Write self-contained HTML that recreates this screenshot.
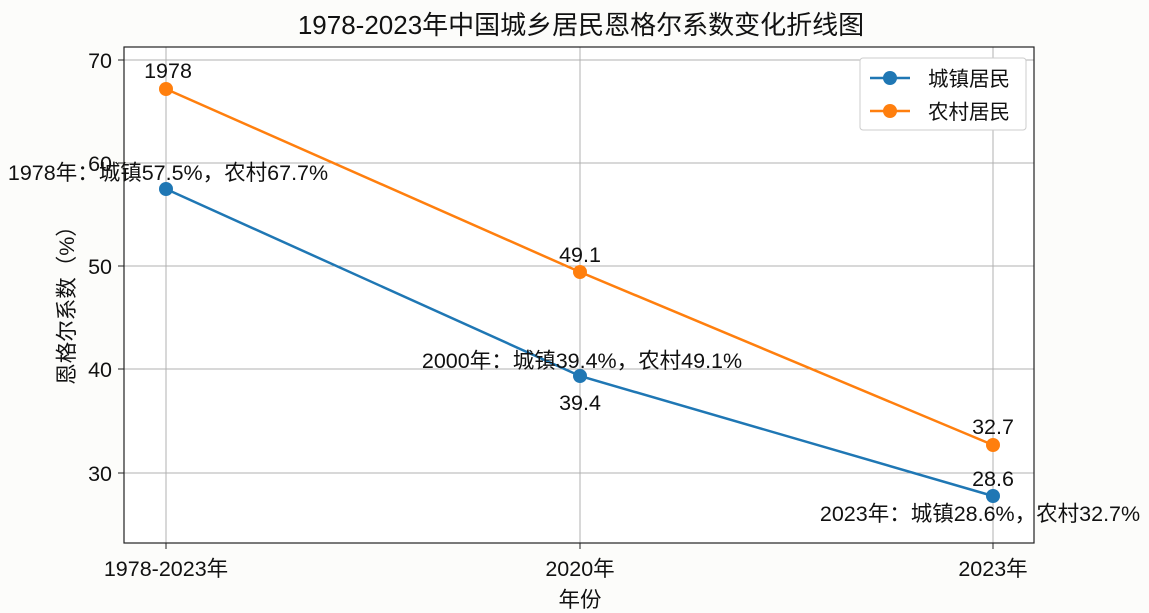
<!DOCTYPE html>
<html><head><meta charset="utf-8"><style>
body{margin:0;background:#fcfcfa;}
svg{display:block;font-family:"Liberation Sans","Noto Sans CJK SC",sans-serif;}
</style></head><body>
<svg width="1149" height="613" viewBox="0 0 1149 613" xmlns="http://www.w3.org/2000/svg">
<rect width="1149" height="613" fill="#fcfcfa"/>
<text x="581" y="34" font-size="26" text-anchor="middle" fill="#111">1978-2023年中国城乡居民恩格尔系数变化折线图</text>
<rect x="124" y="47" width="910" height="496" fill="#fff"/>
<g stroke="#b0b0b0" stroke-width="1">
<line x1="166" y1="47" x2="166" y2="543"/>
<line x1="580" y1="47" x2="580" y2="543"/>
<line x1="993" y1="47" x2="993" y2="543"/>
<line x1="124" y1="60" x2="1034" y2="60"/>
<line x1="124" y1="163" x2="1034" y2="163"/>
<line x1="124" y1="266" x2="1034" y2="266"/>
<line x1="124" y1="369" x2="1034" y2="369"/>
<line x1="124" y1="473" x2="1034" y2="473"/>
</g>
<rect x="124" y="47" width="910" height="496" fill="none" stroke="#222" stroke-width="1.2"/>
<g stroke="#222">
<line x1="166" y1="543" x2="166" y2="549"/><line x1="580" y1="543" x2="580" y2="549"/><line x1="993" y1="543" x2="993" y2="549"/>
<line x1="118" y1="60" x2="124" y2="60"/><line x1="118" y1="163" x2="124" y2="163"/><line x1="118" y1="266" x2="124" y2="266"/><line x1="118" y1="369" x2="124" y2="369"/><line x1="118" y1="473" x2="124" y2="473"/>
</g>
<g font-size="21.5" fill="#111">
<text x="112" y="68" text-anchor="end">70</text>
<text x="112" y="171" text-anchor="end">60</text>
<text x="112" y="274" text-anchor="end">50</text>
<text x="112" y="377" text-anchor="end">40</text>
<text x="112" y="481" text-anchor="end">30</text>
<text x="166" y="576" text-anchor="middle">1978-2023年</text>
<text x="580" y="576" text-anchor="middle">2020年</text>
<text x="993" y="576" text-anchor="middle">2023年</text>
<text x="580" y="607" text-anchor="middle">年份</text>
<text transform="translate(74,300) rotate(-90)" text-anchor="middle">恩格尔系数（%）</text>
</g>
<polyline points="166,189 580,376 993,496" fill="none" stroke="#1f77b4" stroke-width="2.5"/>
<polyline points="166,89 580,272 993,445" fill="none" stroke="#ff7f0e" stroke-width="2.5"/>
<g fill="#1f77b4"><circle cx="166" cy="189" r="7"/><circle cx="580" cy="376" r="7"/><circle cx="993" cy="496" r="7"/></g>
<g fill="#ff7f0e"><circle cx="166" cy="89" r="7"/><circle cx="580" cy="272" r="7"/><circle cx="993" cy="445" r="7"/></g>
<g font-size="21.5" fill="#111" text-anchor="middle">
<text x="168" y="78">1978</text>
<text x="580" y="262">49.1</text>
<text x="993" y="434">32.7</text>
<text x="993" y="486">28.6</text>
<text x="580" y="410">39.4</text>
<text x="168" y="180">1978年：城镇57.5%，农村67.7%</text>
<text x="582" y="368">2000年：城镇39.4%，农村49.1%</text>
<text x="980" y="521">2023年：城镇28.6%，农村32.7%</text>
</g>
<rect x="860" y="58" width="166" height="72" rx="3" fill="#fff" stroke="#ccc"/>
<line x1="870" y1="78" x2="910" y2="78" stroke="#1f77b4" stroke-width="2.5"/><circle cx="890" cy="78" r="7" fill="#1f77b4"/>
<line x1="870" y1="111" x2="910" y2="111" stroke="#ff7f0e" stroke-width="2.5"/><circle cx="890" cy="111" r="7" fill="#ff7f0e"/>
<text x="928" y="86" font-size="20.5" fill="#111">城镇居民</text>
<text x="928" y="119" font-size="20.5" fill="#111">农村居民</text>
</svg>
</body></html>
